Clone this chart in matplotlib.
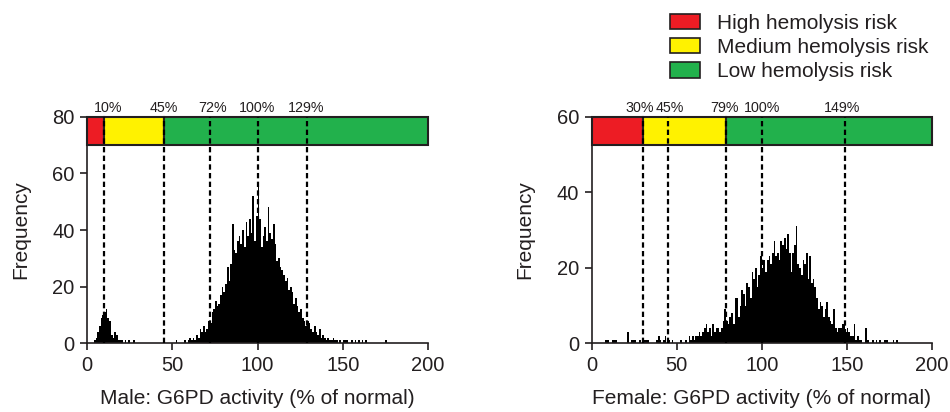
import numpy as np
import matplotlib
matplotlib.use("Agg")
import matplotlib.pyplot as plt
from matplotlib.patches import Patch, Rectangle

plt.rcParams["font.family"] = ["Liberation Sans", "DejaVu Sans"]

# bin left edges, 1% wide
bins = np.arange(0, 200)

# male counts per 1% bin
male_counts = [
    0, 0, 0, 0, 1, 2, 4, 6, 9, 10,          # 0-9
    11, 12, 9, 8, 3, 2, 4, 3, 1, 1,         # 10-19
    1, 0, 1, 0, 1, 0, 0, 1, 0, 0,           # 20-29
    0, 0, 0, 0, 0, 0, 0, 0, 0, 0,           # 30-39
    0, 0, 0, 0, 0, 0, 0, 0, 0, 0,           # 40-49
    0, 0, 1, 0, 0, 0, 0, 1, 0, 1,           # 50-59
    2, 1, 2, 1, 3, 2, 5, 4, 6, 4,           # 60-69
    5, 8, 7, 11, 12, 15, 13, 14, 17, 20,    # 70-79
    18, 21, 27, 22, 28, 42, 33, 32, 36, 38, # 80-89
    35, 40, 34, 43, 38, 44, 39, 52, 36, 45, # 90-99
    57, 44, 34, 38, 41, 36, 48, 39, 37, 42, # 100-109
    35, 29, 30, 27, 26, 24, 22, 23, 19, 20, # 110-119
    18, 14, 16, 13, 11, 12, 9, 8, 6, 8,     # 120-129
    7, 5, 4, 6, 4, 3, 5, 2, 3, 2,           # 130-139
    1, 2, 1, 1, 2, 1, 1, 0, 1, 0,           # 140-149
    1, 1, 1, 0, 0, 1, 0, 1, 0, 1,           # 150-159
    0, 1, 0, 1, 0, 0, 0, 0, 0, 0,           # 160-169
    0, 0, 0, 0, 0, 1, 0, 0, 0, 0,           # 170-179
    0, 0, 0, 0, 0, 0, 0, 0, 0, 0,           # 180-189
    0, 0, 0, 0, 0, 0, 0, 0, 0, 0,           # 190-199
]

female_counts = [
    0, 0, 0, 0, 0, 0, 0, 0, 1, 1,           # 0-9
    0, 0, 1, 1, 1, 0, 0, 0, 0, 0,           # 10-19
    0, 3, 0, 1, 1, 1, 0, 0, 1, 0,           # 20-29
    0, 1, 1, 1, 0, 0, 0, 0, 1, 2,           # 30-39
    1, 0, 1, 2, 0, 1, 0, 1, 0, 0,           # 40-49
    0, 0, 1, 0, 0, 1, 0, 2, 1, 2,           # 50-59
    1, 2, 2, 3, 2, 3, 4, 5, 3, 4,           # 60-69
    2, 5, 3, 4, 4, 3, 4, 6, 9, 6,           # 70-79
    5, 7, 8, 5, 12, 12, 7, 10, 14, 13,      # 80-89
    10, 16, 15, 12, 19, 17, 20, 15, 18, 23, # 90-99
    20, 22, 19, 22, 23, 21, 24, 27, 23, 24, # 100-109
    22, 27, 26, 28, 25, 29, 24, 19, 24, 26, # 110-119
    31, 21, 20, 18, 22, 21, 24, 17, 23, 16, # 120-129
    17, 15, 12, 9, 11, 10, 7, 9, 11, 7,     # 130-139
    6, 5, 9, 4, 3, 4, 4, 5, 5, 3,           # 140-149
    4, 3, 2, 2, 5, 1, 2, 1, 1, 0,           # 150-159
    0, 4, 1, 0, 0, 1, 0, 1, 0, 1,           # 160-169
    0, 0, 1, 1, 0, 0, 0, 1, 0, 1,           # 170-179
    0, 0, 0, 0, 0, 0, 0, 0, 0, 0,           # 180-189
    0, 0, 0, 0, 0, 0, 0, 0, 0, 0,           # 190-199
]

# risk cut-offs (red | yellow | green) and marked percentages
male_cuts = [10, 45]
female_cuts = [30, 79]
male_marks = [10, 45, 72, 100, 129]
female_marks = [30, 45, 79, 100, 149]
# small horizontal nudges of the % labels, as placed in the original
male_nudge = [2.3, 0.2, 1.5, 0, -0.7]
female_nudge = [-1.8, 1.2, -0.6, 0, -2.0]

risk_colors = ["#ed1c24", "#fff200", "#22b14c"]
risk_labels = ["High hemolysis risk", "Medium hemolysis risk", "Low hemolysis risk"]
dark = "#231f20"

fig = plt.figure(figsize=(9.5, 4.12), dpi=100)
ax1 = fig.add_axes([0.0916, 0.1667, 0.359, 0.55])
ax2 = fig.add_axes([0.6228, 0.1667, 0.358, 0.55])


def draw_panel(ax, counts, ymax, ystep, cuts, marks, nudge, xlabel):
    ax.bar(bins, counts, width=1, align="edge", color="black", linewidth=0, zorder=2)
    ax.set_xlim(0, 200)
    ax.set_ylim(0, ymax)
    band = ymax / 8
    edges = [0] + cuts + [200]
    for i in range(3):
        ax.add_patch(Rectangle((edges[i], ymax - band), edges[i + 1] - edges[i], band,
                               facecolor=risk_colors[i], edgecolor=dark, linewidth=1.5,
                               zorder=3, clip_on=False))
    for m, dx in zip(marks, nudge):
        ax.plot([m, m], [0, ymax], color="black", lw=1.6, ls=(0, (2.4, 1.5)), zorder=4)
        ax.text(m + dx, ymax * 1.008, f"{m}%", ha="center", va="bottom", fontsize=10.3, color=dark)
    ax.set_xticks([0, 50, 100, 150, 200])
    ax.set_yticks(np.arange(0, ymax + 1, ystep))
    for s in ["top", "right"]:
        ax.spines[s].set_visible(False)
    for s in ["left", "bottom"]:
        ax.spines[s].set_linewidth(1.2)
        ax.spines[s].set_color(dark)
    ax.tick_params(labelsize=14.5, width=1.2, length=5, pad=4, colors=dark, labelcolor=dark)
    ax.set_xlabel(xlabel, fontsize=15, color=dark, labelpad=10)
    ax.set_ylabel("Frequency", fontsize=15, color=dark, labelpad=16)


draw_panel(ax1, male_counts, 80, 20, male_cuts, male_marks, male_nudge,
           "Male: G6PD activity (% of normal)")
draw_panel(ax2, female_counts, 60, 20, female_cuts, female_marks, female_nudge,
           "Female: G6PD activity (% of normal)")

handles = [Patch(facecolor=c, edgecolor=dark, linewidth=1.2) for c in risk_colors]
fig.legend(handles, risk_labels, loc="upper left", bbox_to_anchor=(0.6855, 1.012),
           frameon=False, fontsize=15, handlelength=1.45, handleheight=0.75,
           labelspacing=0.25, handletextpad=0.8, labelcolor=dark)

fig.savefig("out.png", dpi=100)
